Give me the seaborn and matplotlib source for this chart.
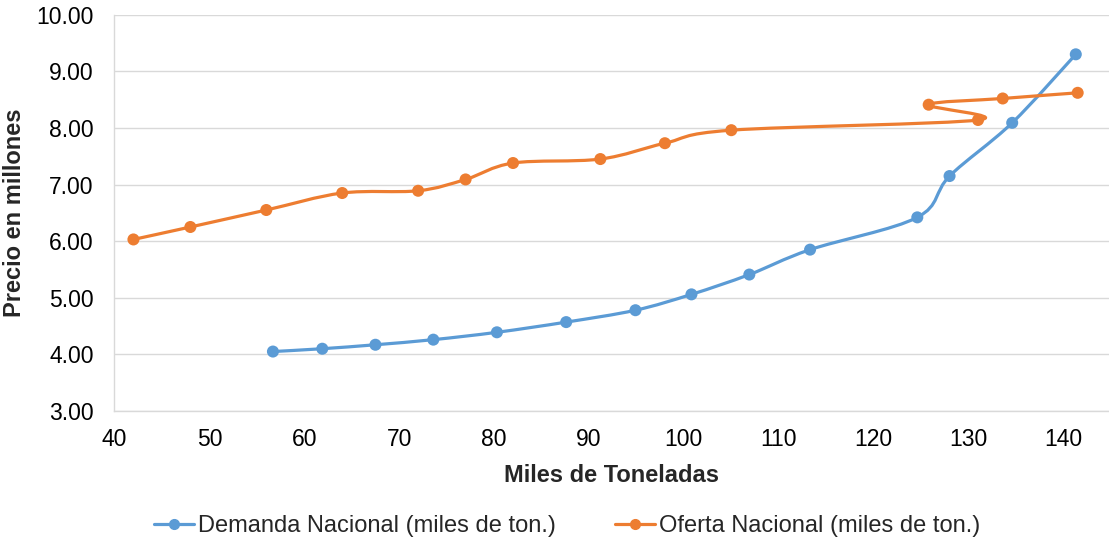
import numpy as np
import pandas as pd
import seaborn as sns
import matplotlib.pyplot as plt
from matplotlib.path import Path
from matplotlib.patches import PathPatch
from matplotlib.lines import Line2D

sns.set_theme(style="white")
plt.rcParams['font.family'] = ['Liberation Sans', 'DejaVu Sans']

# data
demanda_x = [56.7, 61.9, 67.5, 73.6, 80.3, 87.6, 94.9, 100.8, 106.9, 113.3, 124.6, 128.0, 134.6, 141.3]
demanda_y = [4.05, 4.10, 4.17, 4.26, 4.39, 4.57, 4.78, 5.06, 5.41, 5.85, 6.42, 7.15, 8.09, 9.30]
oferta_x = [42.0, 48.0, 56.0, 64.0, 72.0, 77.0, 82.0, 91.2, 98.0, 105.0, 131.0, 125.8, 133.6, 141.5]
oferta_y = [6.03, 6.25, 6.55, 6.85, 6.89, 7.09, 7.38, 7.45, 7.73, 7.96, 8.14, 8.41, 8.52, 8.62]

series_names = ["Demanda Nacional (miles de ton.)", "Oferta Nacional (miles de ton.)"]
colors = ["#5B9BD5", "#ED7D31"]

df = pd.concat([
    pd.DataFrame({"x": demanda_x, "y": demanda_y, "serie": series_names[0]}),
    pd.DataFrame({"x": oferta_x, "y": oferta_y, "serie": series_names[1]}),
])


def smooth_path(xs, ys):
    # excel-like smoothed line: cubic bezier through the points
    p = np.column_stack([xs, ys])
    n = len(p)
    verts = [p[0]]
    codes = [Path.MOVETO]
    for i in range(n - 1):
        p0 = p[i - 1] if i > 0 else p[i]
        p3 = p[i + 2] if i + 2 < n else p[i + 1]
        c1 = p[i] + (p[i + 1] - p0) / 6
        c2 = p[i + 1] - (p3 - p[i]) / 6
        verts += [c1, c2, p[i + 1]]
        codes += [Path.CURVE4] * 3
    return Path(verts, codes)


fig, ax = plt.subplots(figsize=(11.09, 5.44), dpi=100)
fig.subplots_adjust(left=0.1032, right=1.0, top=0.973, bottom=0.2445)

for name, col in zip(series_names, colors):
    d = df[df["serie"] == name]
    ax.add_patch(PathPatch(smooth_path(d["x"].values, d["y"].values),
                           facecolor="none", edgecolor=col, lw=2.3, zorder=2))

sns.scatterplot(data=df, x="x", y="y", hue="serie", palette=colors, s=75,
                edgecolor="none", legend=False, zorder=3, ax=ax)

ax.set_xlim(40, 144.8)
ax.set_ylim(3, 10)
ax.set_xticks(range(40, 141, 10))
ax.set_yticks(np.arange(3, 10.01, 1))
ax.set_yticklabels([f"{v:.2f}" for v in np.arange(3, 10.01, 1)])
ax.tick_params(axis="both", length=0, labelsize=16.5, colors="#000000")
ax.tick_params(axis="y", pad=15)
ax.tick_params(axis="x", pad=12)
ax.grid(axis="y", color="#d9d9d9", lw=1)
ax.set_axisbelow(True)
for s in ["top", "right"]:
    ax.spines[s].set_visible(False)
for s in ["left", "bottom"]:
    ax.spines[s].set_color("#d9d9d9")
    ax.spines[s].set_linewidth(1)
ax.set_xlabel("")
ax.set_ylabel("")

fig.text(611 / 1109, 1 - 475 / 544, "Miles de Toneladas", ha="center", va="center",
         fontsize=17, fontweight="bold")
fig.text(14.6 / 1109, 1 - 213 / 544, "Precio en millones", ha="center", va="center",
         rotation=90, fontsize=17, fontweight="bold")

handles = [Line2D([0], [0], color=c, lw=2.3, marker="o", markersize=7) for c in colors]
fig.legend(handles, series_names, loc="center", bbox_to_anchor=(567 / 1109, 1 - 526 / 544),
           ncol=2, frameon=False, fontsize=17, handlelength=1.7, handletextpad=0.15,
           columnspacing=2.5)

fig.savefig("out.png", dpi=100)
